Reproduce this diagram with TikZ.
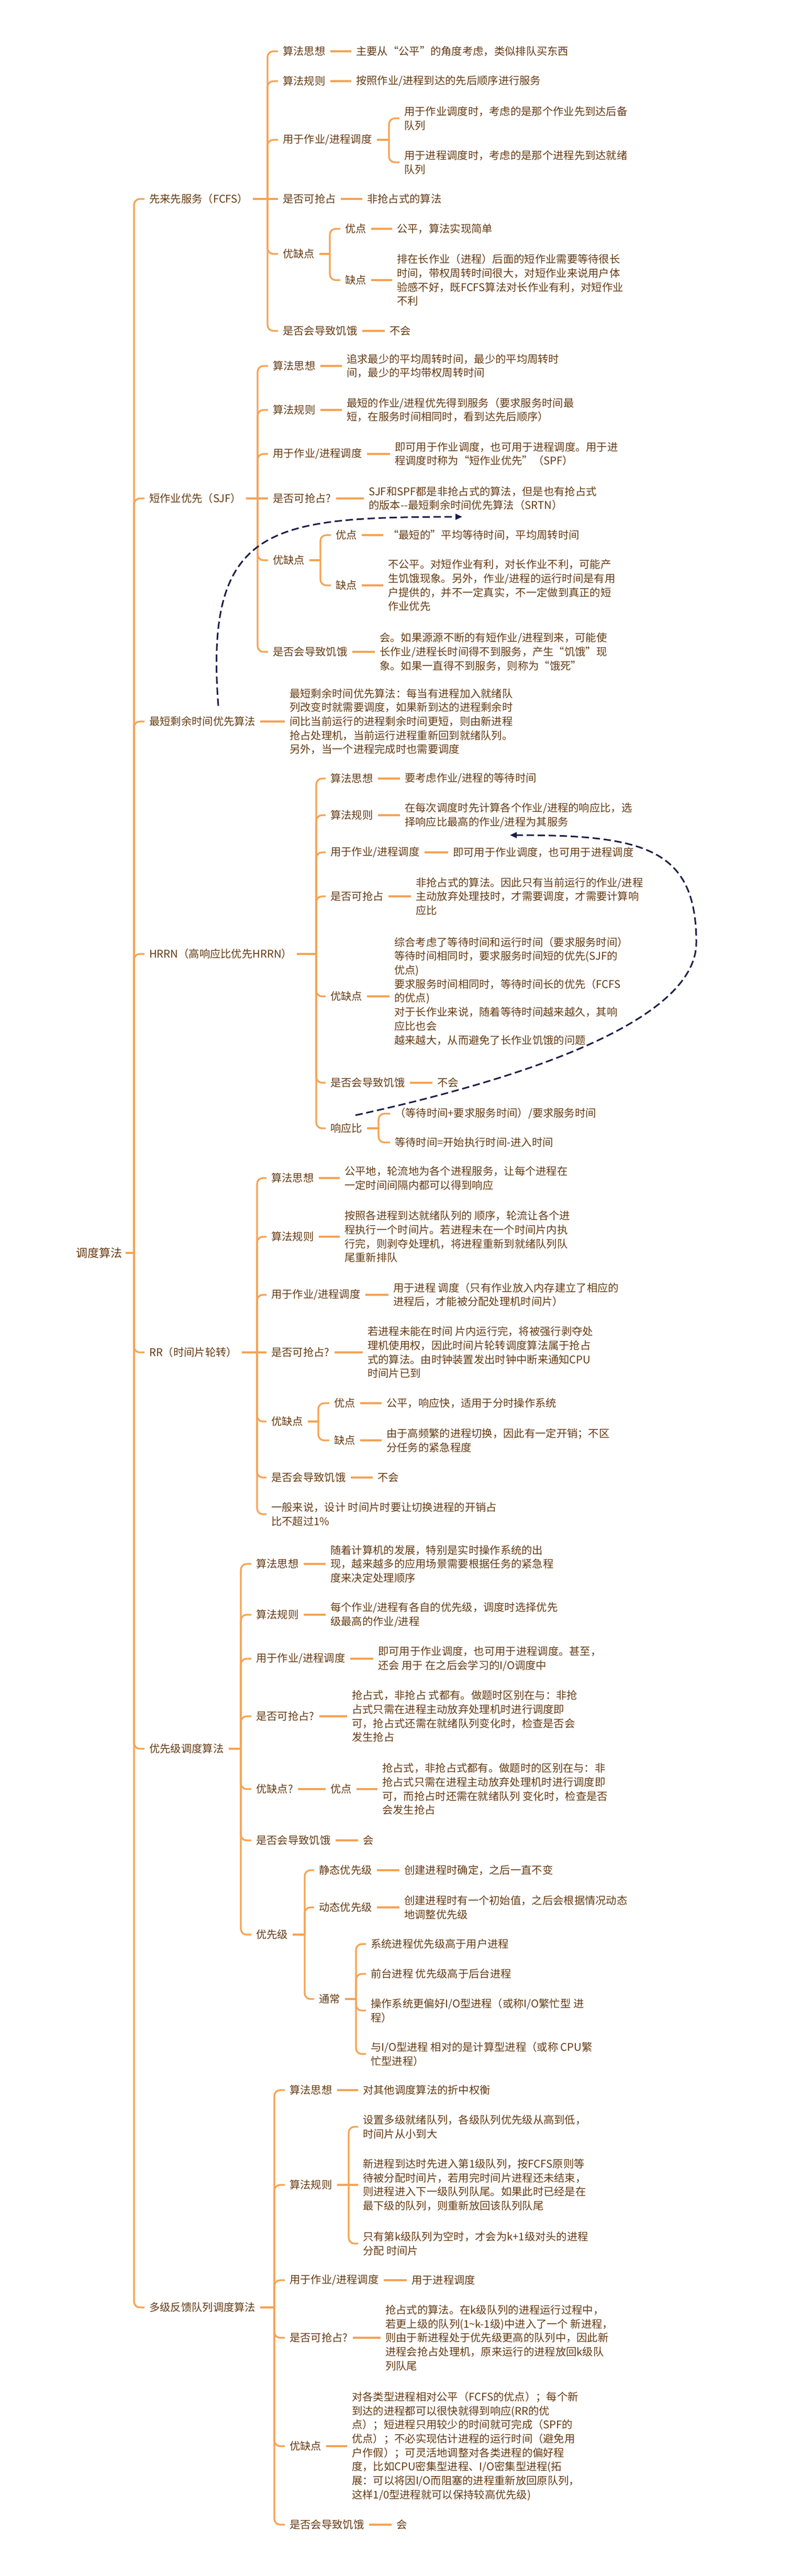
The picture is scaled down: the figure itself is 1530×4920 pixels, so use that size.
\documentclass[tikz,border=0pt]{standalone}
\usepackage{fontspec}
\newfontfamily\cjk{Noto Sans CJK SC}
\usetikzlibrary{calc,arrows.meta}
\definecolor{txt}{RGB}{100,58,18}
\definecolor{org}{RGB}{246,162,82}
\definecolor{navy}{RGB}{28,30,72}
\newcommand\mmstub[3]{\draw[lk] ($(#1.east)+(9,0)$) -- (#2,#3);}
\newcommand\mmkid[3]{\draw[br] (#1,#2) |- ($(#3.west)+(-9,0)$);}
\newcommand\mmcross[3]{\draw[lk] (#1,#2) -- ($(#3.west)+(-9,0)$);}
\newcommand\mmone[2]{\draw[lk] ($(#1.east)+(9,0)$) -- ($(#1.east -| #2.west)+(-9,0)$);}
\begin{document}
\begin{tikzpicture}[x=1bp,y=-1bp,
  lbl/.style={anchor=west,inner sep=0pt,align=left,text=txt,font=\cjk\fontsize{20.3bp}{26.7bp}\selectfont},
  rootlbl/.style={anchor=east,inner sep=0pt,text=txt,font=\cjk\fontsize{22bp}{26bp}\selectfont},
  lk/.style={draw=org,line width=3.2bp},
  br/.style={draw=org,line width=3.2bp,rounded corners=11bp},
  darr/.style={draw=navy,line width=3bp,dash pattern=on 14bp off 7bp,-{Triangle[length=13bp,width=11bp]}}]
\fill[white] (0,0) rectangle (1530,4920);
\useasboundingbox (0,0) rectangle (1530,4920);

% root
\node[rootlbl] (root) at (234,2393) {调度算法};
\draw[lk] ($(root.east)+(6,0)$) -- (256,2393);

% level 1
\node[lbl] (fcfs) at (285,380) {先来先服务（FCFS）};
\node[lbl] (sjf) at (285,952) {短作业优先（SJF）};
\node[lbl] (srtn) at (285,1378) {最短剩余时间优先算法};
\node[lbl] (hrrn) at (285,1822) {HRRN（高响应比优先HRRN）};
\node[lbl] (rr) at (285,2583) {RR（时间片轮转）};
\node[lbl] (prio) at (285,3340) {优先级调度算法};
\node[lbl] (mlfq) at (285,4407) {多级反馈队列调度算法};
\foreach \n in {fcfs,sjf,srtn,hrrn,rr,prio,mlfq} {\mmkid{256}{2393}{\n}}

% FCFS
\node[lbl] (f1) at (540,98) {算法思想};
\node[lbl] (f1a) at (680,98) {主要从“公平”的角度考虑，类似排队买东西};
\node[lbl] (f2) at (540,155) {算法规则};
\node[lbl] (f2a) at (680,155) {按照作业/进程到达的先后顺序进行服务};
\node[lbl] (f3) at (540,267) {用于作业/进程调度};
\node[lbl] (f3a) at (772,226) {用于作业调度时，考虑的是那个作业先到达后备\\队列};
\node[lbl] (f3b) at (772,310) {用于进程调度时，考虑的是那个进程先到达就绪\\队列};
\node[lbl] (f4) at (540,380) {是否可抢占};
\node[lbl] (f4a) at (701,380) {非抢占式的算法};
\node[lbl] (f5) at (540,485) {优缺点};
\node[lbl] (f5a) at (659,437) {优点};
\node[lbl] (f5aa) at (758,437) {公平，算法实现简单};
\node[lbl] (f5b) at (659,535) {缺点};
\node[lbl] (f5ba) at (758,535) {排在长作业（进程）后面的短作业需要等待很长\\时间，带权周转时间很大，对短作业来说用户体\\验感不好，既FCFS算法对长作业有利，对短作业\\不利};
\node[lbl] (f6) at (540,632) {是否会导致饥饿};
\node[lbl] (f6a) at (744,632) {不会};
\mmstub{fcfs}{511}{380}
\foreach \n in {f1,f2,f3,f5,f6} {\mmkid{511}{380}{\n}}
\mmcross{511}{380}{f4}
\mmone{f1}{f1a}\mmone{f2}{f2a}\mmone{f4}{f4a}\mmone{f6}{f6a}
\mmstub{f3}{743}{267}\mmkid{743}{267}{f3a}\mmkid{743}{267}{f3b}
\mmstub{f5}{630}{485}\mmkid{630}{485}{f5a}\mmkid{630}{485}{f5b}
\mmone{f5a}{f5aa}\mmone{f5b}{f5ba}

% SJF
\node[lbl] (s1) at (521,699) {算法思想};
\node[lbl] (s1a) at (662,699) {追求最少的平均周转时间，最少的平均周转时\\间，最少的平均带权周转时间};
\node[lbl] (s2) at (521,783) {算法规则};
\node[lbl] (s2a) at (662,783) {最短的作业/进程优先得到服务（要求服务时间最\\短，在服务时间相同时，看到达先后顺序）};
\node[lbl] (s3) at (521,867) {用于作业/进程调度};
\node[lbl] (s3a) at (754,867) {即可用于作业调度，也可用于进程调度。用于进\\程调度时称为“短作业优先”（SPF）};
\node[lbl] (s4) at (521,952) {是否可抢占?};
\node[lbl] (s4a) at (704,952) {SJF和SPF都是非抢占式的算法，但是也有抢占式\\的版本-{}-最短剩余时间优先算法（SRTN）};
\node[lbl] (s5) at (521,1070) {优缺点};
\node[lbl] (s5a) at (641,1022) {优点};
\node[lbl] (s5aa) at (741,1022) {“最短的”平均等待时间，平均周转时间};
\node[lbl] (s5b) at (641,1118) {缺点};
\node[lbl] (s5ba) at (741,1118) {不公平。对短作业有利，对长作业不利，可能产\\生饥饿现象。另外，作业/进程的运行时间是有用\\户提供的，并不一定真实，不一定做到真正的短\\作业优先};
\node[lbl] (s6) at (521,1245) {是否会导致饥饿};
\node[lbl] (s6a) at (725,1245) {会。如果源源不断的有短作业/进程到来，可能使\\长作业/进程长时间得不到服务，产生“饥饿”现\\象。如果一直得不到服务，则称为“饿死”};
\mmstub{sjf}{492}{952}
\foreach \n in {s1,s2,s3,s5,s6} {\mmkid{492}{952}{\n}}
\mmcross{492}{952}{s4}
\mmone{s1}{s1a}\mmone{s2}{s2a}\mmone{s3}{s3a}\mmone{s4}{s4a}\mmone{s6}{s6a}
\mmstub{s5}{612}{1070}\mmkid{612}{1070}{s5a}\mmkid{612}{1070}{s5b}
\mmone{s5a}{s5aa}\mmone{s5b}{s5ba}

% SRTN
\node[lbl] (r1) at (553,1378) {最短剩余时间优先算法：每当有进程加入就绪队\\列改变时就需要调度，如果新到达的进程剩余时\\间比当前运行的进程剩余时间更短，则由新进程\\抢占处理机，当前运行进程重新回到就绪队列。\\另外，当一个进程完成时也需要调度};
\mmone{srtn}{r1}

% HRRN
\node[lbl] (h1) at (631,1487) {算法思想};
\node[lbl] (h1a) at (773,1487) {要考虑作业/进程的等待时间};
\node[lbl] (h2) at (631,1557) {算法规则};
\node[lbl] (h2a) at (773,1557) {在每次调度时先计算各个作业/进程的响应比，选\\择响应比最高的作业/进程为其服务};
\node[lbl] (h3) at (631,1628) {用于作业/进程调度};
\node[lbl] (h3a) at (865,1628) {即可用于作业调度，也可用于进程调度};
\node[lbl] (h4) at (631,1712) {是否可抢占};
\node[lbl] (h4a) at (794,1712) {非抢占式的算法。因此只有当前运行的作业/进程\\主动放弃处理技时，才需要调度，才需要计算响\\应比};
\node[lbl] (h5) at (631,1903) {优缺点};
\node[lbl] (h5a) at (753,1893) {综合考虑了等待时间和运行时间（要求服务时间）\\等待时间相同时，要求服务时间短的优先(SJF的\\优点)\\要求服务时间相同时，等待时间长的优先（FCFS\\的优点)\\对于长作业来说，随着等待时间越来越久，其响\\应比也会\\越来越大，从而避免了长作业饥饿的问题};
\node[lbl] (h6) at (631,2068) {是否会导致饥饿};
\node[lbl] (h6a) at (835,2068) {不会};
\node[lbl] (h7) at (631,2155) {响应比};
\node[lbl] (h7a) at (754,2127) {（等待时间+要求服务时间）/要求服务时间};
\node[lbl] (h7b) at (754,2182) {等待时间=开始执行时间-进入时间};
\mmstub{hrrn}{604}{1822}
\foreach \n in {h1,h2,h3,h4,h5,h6,h7} {\mmkid{604}{1822}{\n}}
\mmone{h1}{h1a}\mmone{h2}{h2a}\mmone{h3}{h3a}\mmone{h4}{h4a}\mmone{h5}{h5a}\mmone{h6}{h6a}
\mmstub{h7}{723}{2155}\mmkid{723}{2155}{h7a}\mmkid{723}{2155}{h7b}

% RR
\node[lbl] (q1) at (518,2250) {算法思想};
\node[lbl] (q1a) at (658,2250) {公平地，轮流地为各个进程服务，让每个进程在\\一定时间间隔内都可以得到响应};
\node[lbl] (q2) at (518,2362) {算法规则};
\node[lbl] (q2a) at (658,2362) {按照各进程到达就绪队列的 顺序，轮流让各个进\\程执行一个时间片。若进程未在一个时间片内执\\行完，则剥夺处理机，将进程重新到就绪队列队\\尾重新排队};
\node[lbl] (q3) at (518,2473) {用于作业/进程调度};
\node[lbl] (q3a) at (751,2473) {用于进程 调度（只有作业放入内存建立了相应的\\进程后，才能被分配处理机时间片）};
\node[lbl] (q4) at (518,2583) {是否可抢占?};
\node[lbl] (q4a) at (702,2583) {若进程未能在时间 片内运行完，将被强行剥夺处\\理机使用权，因此时间片轮转调度算法属于抢占\\式的算法。由时钟装置发出时钟中断来通知CPU\\时间片已到};
\node[lbl] (q5) at (518,2715) {优缺点};
\node[lbl] (q5a) at (638,2680) {优点};
\node[lbl] (q5aa) at (738,2680) {公平，响应快，适用于分时操作系统};
\node[lbl] (q5b) at (638,2751) {缺点};
\node[lbl] (q5ba) at (738,2751) {由于高频繁的进程切换，因此有一定开销；不区\\分任务的紧急程度};
\node[lbl] (q6) at (518,2822) {是否会导致饥饿};
\node[lbl] (q6a) at (721,2822) {不会};
\node[lbl] (q7) at (518,2892) {一般来说，设计 时间片时要让切换进程的开销占\\比不超过1\%};
\mmstub{rr}{491}{2583}
\foreach \n in {q1,q2,q3,q5,q6,q7} {\mmkid{491}{2583}{\n}}
\mmcross{491}{2583}{q4}
\mmone{q1}{q1a}\mmone{q2}{q2a}\mmone{q3}{q3a}\mmone{q4}{q4a}\mmone{q6}{q6a}
\mmstub{q5}{608}{2715}\mmkid{608}{2715}{q5a}\mmkid{608}{2715}{q5b}
\mmone{q5a}{q5aa}\mmone{q5b}{q5ba}

% Priority
\node[lbl] (p1) at (489,2987) {算法思想};
\node[lbl] (p1a) at (631,2987) {随着计算机的发展，特别是实时操作系统的出\\现，越来越多的应用场景需要根据任务的紧急程\\度来决定处理顺序};
\node[lbl] (p2) at (489,3084) {算法规则};
\node[lbl] (p2a) at (631,3084) {每个作业/进程有各自的优先级，调度时选择优先\\级最高的作业/进程};
\node[lbl] (p3) at (489,3168) {用于作业/进程调度};
\node[lbl] (p3a) at (722,3168) {即可用于作业调度，也可用于进程调度。甚至，\\还会 用于 在之后会学习的I/O调度中};
\node[lbl] (p4) at (489,3278) {是否可抢占?};
\node[lbl] (p4a) at (672,3278) {抢占式，非抢占 式都有。做题时区别在与：非抢\\占式只需在进程主动放弃处理机时进行调度即\\可，抢占式还需在就绪队列变化时，检查是否会\\发生抢占};
\node[lbl] (p5) at (489,3417) {优缺点?};
\node[lbl] (p5a) at (631,3417) {优点};
\node[lbl] (p5aa) at (730,3417) {抢占式，非抢占式都有。做题时的区别在与：非\\抢占式只需在进程主动放弃处理机时进行调度即\\可，而抢占时还需在就绪队列 变化时，检查是否\\会发生抢占};
\node[lbl] (p6) at (489,3515) {是否会导致饥饿};
\node[lbl] (p6a) at (693,3515) {会};
\node[lbl] (p7) at (489,3695) {优先级};
\node[lbl] (p7a) at (609,3572) {静态优先级};
\node[lbl] (p7aa) at (772,3572) {创建进程时确定，之后一直不变};
\node[lbl] (p7b) at (609,3643) {动态优先级};
\node[lbl] (p7ba) at (772,3643) {创建进程时有一个初始值，之后会根据情况动态\\地调整优先级};
\node[lbl] (p7c) at (609,3818) {通常};
\node[lbl] (p7c1) at (708,3713) {系统进程优先级高于用户进程};
\node[lbl] (p7c2) at (708,3770) {前台进程 优先级高于后台进程};
\node[lbl] (p7c3) at (708,3840) {操作系统更偏好I/O型进程（或称I/O繁忙型 进\\程）};
\node[lbl] (p7c4) at (708,3923) {与I/O型进程 相对的是计算型进程（或称 CPU繁\\忙型进程）};
\mmstub{prio}{460}{3340}
\foreach \n in {p1,p2,p3,p4,p5,p6,p7} {\mmkid{460}{3340}{\n}}
\mmone{p1}{p1a}\mmone{p2}{p2a}\mmone{p3}{p3a}\mmone{p4}{p4a}\mmone{p5}{p5a}\mmone{p5a}{p5aa}\mmone{p6}{p6a}
\mmstub{p7}{582}{3695}
\foreach \n in {p7a,p7b,p7c} {\mmkid{582}{3695}{\n}}
\mmone{p7a}{p7aa}\mmone{p7b}{p7ba}
\mmstub{p7c}{680}{3818}
\foreach \n in {p7c1,p7c2,p7c3,p7c4} {\mmkid{680}{3818}{\n}}

% MLFQ
\node[lbl] (m1) at (553,3992) {算法思想};
\node[lbl] (m1a) at (693,3992) {对其他调度算法的折中权衡};
\node[lbl] (m2) at (553,4173) {算法规则};
\node[lbl] (m2a) at (693,4062) {设置多级就绪队列，各级队列优先级从高到低，\\时间片从小到大};
\node[lbl] (m2b) at (693,4173) {新进程到达时先进入第1级队列，按FCFS原则等\\待被分配时间片，若用完时间片进程还未结束，\\则进程进入下一级队列队尾。如果此时已经是在\\最下级的队列，则重新放回该队列队尾};
\node[lbl] (m2c) at (693,4285) {只有第k级队列为空时，才会为k+1级对头的进程\\分配 时间片};
\node[lbl] (m3) at (553,4355) {用于作业/进程调度};
\node[lbl] (m3a) at (786,4355) {用于进程调度};
\node[lbl] (m4) at (553,4465) {是否可抢占?};
\node[lbl] (m4a) at (736,4465) {抢占式的算法。在k级队列的进程运行过程中，\\若更上级的队列(1\textasciitilde k-1级)中进入了一个 新进程，\\则由于新进程处于优先级更高的队列中，因此新\\进程会抢占处理机，原来运行的进程放回k级队\\列队尾};
\node[lbl] (m5) at (553,4672) {优缺点};
\node[lbl] (m5a) at (672,4672) {对各类型进程相对公平（FCFS的优点）；每个新\\到达的进程都可以很快就得到响应(RR的优\\点）；短进程只用较少的时间就可完成（SPF的\\优点）；不必实现估计进程的运行时间（避免用\\户作假）；可灵活地调整对各类进程的偏好程\\度，比如CPU密集型进程、I/O密集型进程(拓\\展：可以将因I/O而阻塞的进程重新放回原队列，\\这样1/0型进程就可以保持较高优先级)};
\node[lbl] (m6) at (553,4822) {是否会导致饥饿};
\node[lbl] (m6a) at (757,4822) {会};
\mmstub{mlfq}{524}{4407}
\foreach \n in {m1,m2,m3,m4,m5,m6} {\mmkid{524}{4407}{\n}}
\mmone{m1}{m1a}\mmone{m3}{m3a}\mmone{m4}{m4a}\mmone{m5}{m5a}\mmone{m6}{m6a}
\mmstub{m2}{666}{4173}\mmkid{666}{4173}{m2a}\mmcross{666}{4173}{m2b}\mmkid{666}{4173}{m2c}

% dashed arrows
\coordinate (a1s) at (417,1348);
\coordinate (a1e) at (883,987);
\draw[darr] (a1s) .. controls (390,1000) and (520,988) .. (a1e);
\coordinate (a2s) at (679,2130);
\coordinate (a2m) at (1330,1800);
\coordinate (a2e) at (974,1595);
\draw[darr] (a2s) .. controls (1000,2060) and (1330,1950) .. (a2m) .. controls (1330,1620) and (1230,1595) .. (a2e);
\end{tikzpicture}
\end{document}
